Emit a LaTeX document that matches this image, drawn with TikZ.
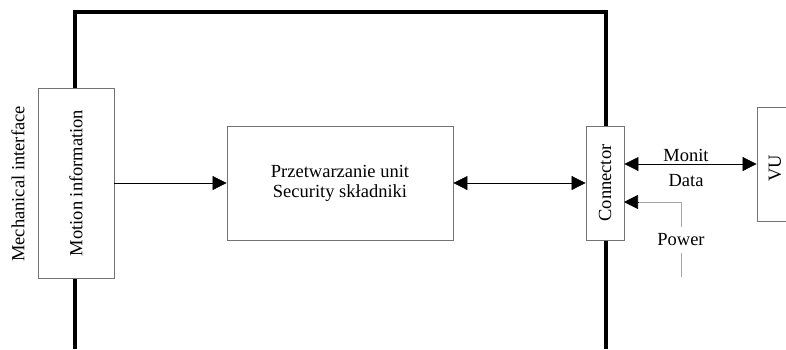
\documentclass[tikz,border=0pt]{standalone}
\usepackage{fontspec}
\setmainfont{Liberation Serif}
\usetikzlibrary{arrows.meta}

\tikzset{
  blk/.style={draw=black!55, fill=white, line width=0.8pt, inner sep=0pt},
  tip/.style={-{Triangle[length=14pt,width=14pt]}},
  dtip/.style={{Triangle[length=14pt,width=14pt]}-{Triangle[length=14pt,width=14pt]}},
  lbl/.style={inner sep=0pt, font=\fontsize{18.5}{20}\selectfont},
}

\begin{document}
\begin{tikzpicture}[x=1pt, y=-1pt, line width=0.7pt]

\clip (0,0) rectangle (786,349);

% outer frame
\draw[line width=3.5] (75,349)--(75,12)--(606,12)--(606,349);

% blocks
\node[blk, minimum width=76, minimum height=190] (motion) at (76,183) {};
\node[blk, minimum width=226, minimum height=114] (main) at (340,183) {};
\node[blk, minimum width=38, minimum height=114] (conn) at (605,183) {};
\node[blk, minimum width=60, minimum height=114] (vu) at (787,164) {};

% texts
\node[lbl, rotate=90] (mech) at (18,184) {Mechanical interface};
\node[lbl, rotate=90] (motiontxt) at (motion) {Motion information};
\node[lbl, align=center] (maintxt) at (main) {Przetwarzanie unit\\Security składniki};
\node[lbl, rotate=90] (conntxt) at (conn) {Connector};
\node[lbl, rotate=90] (vutxt) at (775,168) {VU};
\node[lbl] (monit) at (686,155) {Monit};
\node[lbl] (data) at (686,181) {Data};
\node[lbl, minimum height=26] (power) at (681,240) {Power};

% connectors
\draw[tip] (motion.east) -- (main.west);
\draw[dtip] (main.east) -- (conn.west);
\draw[dtip] (conn.east |- vu.west) -- (vu.west);

\coordinate (pwrin) at (624,202);
\coordinate (pwrend) at (681,277);
\draw[black!35] (power.south) -- (pwrend);
\draw[black!35] (power.north) |- (pwrin);
\draw[tip] ([xshift=15]pwrin) -- (pwrin);

\end{tikzpicture}
\end{document}
